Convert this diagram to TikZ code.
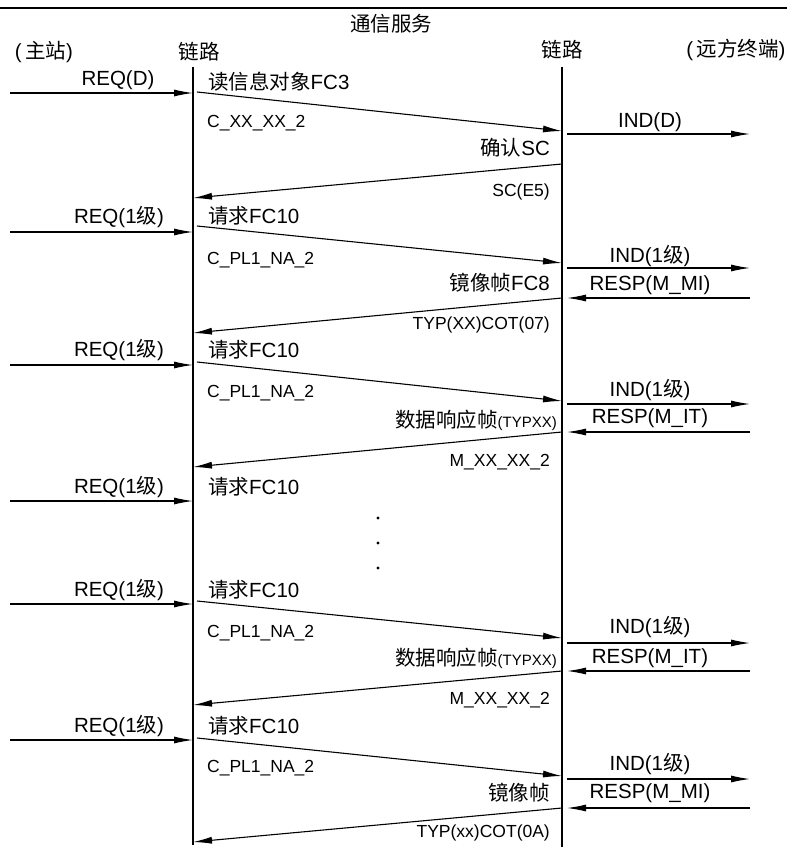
\documentclass[tikz,border=0pt]{standalone}
\usepackage{fontspec}
\setmainfont{Liberation Sans}
\newfontfamily\cjk{Noto Sans CJK SC}
\usetikzlibrary{arrows.meta}
\begin{document}
\begin{tikzpicture}[x=1pt,y=-1pt,
  lbl/.style={inner sep=0pt,font=\fontsize{20.5}{20.5}\selectfont},
  sml/.style={inner sep=0pt,font=\fontsize{17.5}{17.5}\selectfont},
  msg/.style={line width=1.1pt,-{Latex[length=19pt,width=7pt]}},
  life/.style={line width=1.3pt}]
\useasboundingbox (0,0) rectangle (787,848);
\fill[white] (0,0) rectangle (787,848);
% header
\coordinate (topL) at (0,8); \coordinate (topR) at (787,8);
\draw[line width=1.2pt] (topL) -- (topR);
\node[lbl] (title) at (391,24) {\cjk 通信服务};
\node[lbl] (master) at (44,52) {(\,{\cjk 主站})};
\node[lbl] (linkL) at (199,52) {\cjk 链路};
\node[lbl] (linkR) at (562,50) {\cjk 链路};
\node[lbl] (remote) at (736,50) {(\,{\cjk 远方终端})};
% lifelines
\coordinate (LlA) at (193,67); \coordinate (LlB) at (193,845);
\coordinate (RlA) at (562,67); \coordinate (RlB) at (562,847);
\draw[life] (LlA) -- (LlB);
\draw[life] (RlA) -- (RlB);
% ---------- group 1
\coordinate (q1a) at (10,93);   \coordinate (q1b) at (193,93);
\coordinate (d1a) at (197,92);  \coordinate (d1b) at (562,131);
\coordinate (i1a) at (567,134); \coordinate (i1b) at (750,134);
\coordinate (b1a) at (562,164); \coordinate (b1b) at (193,198);
\draw[msg] (q1a) -- (q1b);
\draw[msg] (d1a) -- (d1b);
\draw[msg] (i1a) -- (i1b);
\draw[msg] (b1a) -- (b1b);
\node[lbl] (req1) at (118,80) {REQ(D)};
\node[lbl,anchor=west] (fc1) at (208,82) {{\cjk 读信息对象}FC3};
\node[sml,anchor=west] (c1) at (207,123) {C\_XX\_XX\_2};
\node[lbl] (ind1) at (650,122) {IND(D)};
\node[lbl,anchor=east] (sc1) at (550,148) {{\cjk 确认}SC};
\node[sml,anchor=east] (e1) at (550,192) {SC(E5)};
% ---------- group 2
\coordinate (q2a) at (10,232);  \coordinate (q2b) at (193,232);
\coordinate (d2a) at (197,226); \coordinate (d2b) at (562,263);
\coordinate (i2a) at (567,268); \coordinate (i2b) at (750,268);
\coordinate (p2a) at (750,298); \coordinate (p2b) at (567,298);
\coordinate (b2a) at (562,298); \coordinate (b2b) at (193,333);
\draw[msg] (q2a) -- (q2b);
\draw[msg] (d2a) -- (d2b);
\draw[msg] (i2a) -- (i2b);
\draw[msg] (p2a) -- (p2b);
\draw[msg] (b2a) -- (b2b);
\node[lbl] (req2) at (119,217) {REQ(1{\cjk 级})};
\node[lbl,anchor=west] (fc2) at (208,216) {{\cjk 请求}FC10};
\node[sml,anchor=west] (c2) at (207,260) {C\_PL1\_NA\_2};
\node[lbl] (ind2) at (650,256) {IND(1{\cjk 级})};
\node[lbl,anchor=east] (m2) at (550,283) {{\cjk 镜像帧}FC8};
\node[lbl] (resp2) at (650,285) {RESP(M\_MI)};
\node[sml,anchor=east] (t2) at (550,325) {TYP(XX)COT(07)};
% ---------- group 3
\coordinate (q3a) at (10,365);  \coordinate (q3b) at (193,365);
\coordinate (d3a) at (197,362); \coordinate (d3b) at (562,401);
\coordinate (i3a) at (567,404); \coordinate (i3b) at (750,404);
\coordinate (p3a) at (750,432); \coordinate (p3b) at (567,432);
\coordinate (b3a) at (562,432); \coordinate (b3b) at (193,467);
\draw[msg] (q3a) -- (q3b);
\draw[msg] (d3a) -- (d3b);
\draw[msg] (i3a) -- (i3b);
\draw[msg] (p3a) -- (p3b);
\draw[msg] (b3a) -- (b3b);
\node[lbl] (req3) at (119,350) {REQ(1{\cjk 级})};
\node[lbl,anchor=west] (fc3) at (208,350) {{\cjk 请求}FC10};
\node[sml,anchor=west] (c3) at (207,393) {C\_PL1\_NA\_2};
\node[lbl] (ind3) at (650,390) {IND(1{\cjk 级})};
\node[lbl,anchor=east] (m3) at (557,420) {{\cjk 数据响应帧}{\fontsize{15}{15}\selectfont(TYPXX)}};
\node[lbl] (resp3) at (650,418) {RESP(M\_IT)};
\node[sml,anchor=east] (t3) at (550,462) {M\_XX\_XX\_2};
% ---------- group 4
\coordinate (q4a) at (10,501);  \coordinate (q4b) at (193,501);
\draw[msg] (q4a) -- (q4b);
\node[lbl] (req4) at (119,487) {REQ(1{\cjk 级})};
\node[lbl,anchor=west] (fc4) at (208,487) {{\cjk 请求}FC10};
\fill (378,518) circle (1.6pt);
\fill (378,543) circle (1.6pt);
\fill (378,568) circle (1.6pt);
% ---------- group 5
\coordinate (q5a) at (10,604);  \coordinate (q5b) at (193,604);
\coordinate (d5a) at (197,601); \coordinate (d5b) at (562,638);
\coordinate (i5a) at (567,643); \coordinate (i5b) at (750,643);
\coordinate (p5a) at (750,671); \coordinate (p5b) at (567,671);
\coordinate (b5a) at (562,671); \coordinate (b5b) at (193,705);
\draw[msg] (q5a) -- (q5b);
\draw[msg] (d5a) -- (d5b);
\draw[msg] (i5a) -- (i5b);
\draw[msg] (p5a) -- (p5b);
\draw[msg] (b5a) -- (b5b);
\node[lbl] (req5) at (119,590) {REQ(1{\cjk 级})};
\node[lbl,anchor=west] (fc5) at (208,590) {{\cjk 请求}FC10};
\node[sml,anchor=west] (c5) at (207,633) {C\_PL1\_NA\_2};
\node[lbl] (ind5) at (650,627) {IND(1{\cjk 级})};
\node[lbl,anchor=east] (m5) at (557,658) {{\cjk 数据响应帧}{\fontsize{15}{15}\selectfont(TYPXX)}};
\node[lbl] (resp5) at (650,658) {RESP(M\_IT)};
\node[sml,anchor=east] (t5) at (550,700) {M\_XX\_XX\_2};
% ---------- group 6
\coordinate (q6a) at (10,740);  \coordinate (q6b) at (193,740);
\coordinate (d6a) at (197,738); \coordinate (d6b) at (562,776);
\coordinate (i6a) at (567,779); \coordinate (i6b) at (750,779);
\coordinate (p6a) at (750,808); \coordinate (p6b) at (567,808);
\coordinate (b6a) at (562,808); \coordinate (b6b) at (193,842);
\draw[msg] (q6a) -- (q6b);
\draw[msg] (d6a) -- (d6b);
\draw[msg] (i6a) -- (i6b);
\draw[msg] (p6a) -- (p6b);
\draw[msg] (b6a) -- (b6b);
\node[lbl] (req6) at (119,726) {REQ(1{\cjk 级})};
\node[lbl,anchor=west] (fc6) at (208,726) {{\cjk 请求}FC10};
\node[sml,anchor=west] (c6) at (207,768) {C\_PL1\_NA\_2};
\node[lbl] (ind6) at (650,764) {IND(1{\cjk 级})};
\node[lbl,anchor=east] (m6) at (550,793) {\cjk 镜像帧};
\node[lbl] (resp6) at (650,793) {RESP(M\_MI)};
\node[sml,anchor=east] (t6) at (550,833) {TYP(xx)COT(0A)};
\end{tikzpicture}
\end{document}
